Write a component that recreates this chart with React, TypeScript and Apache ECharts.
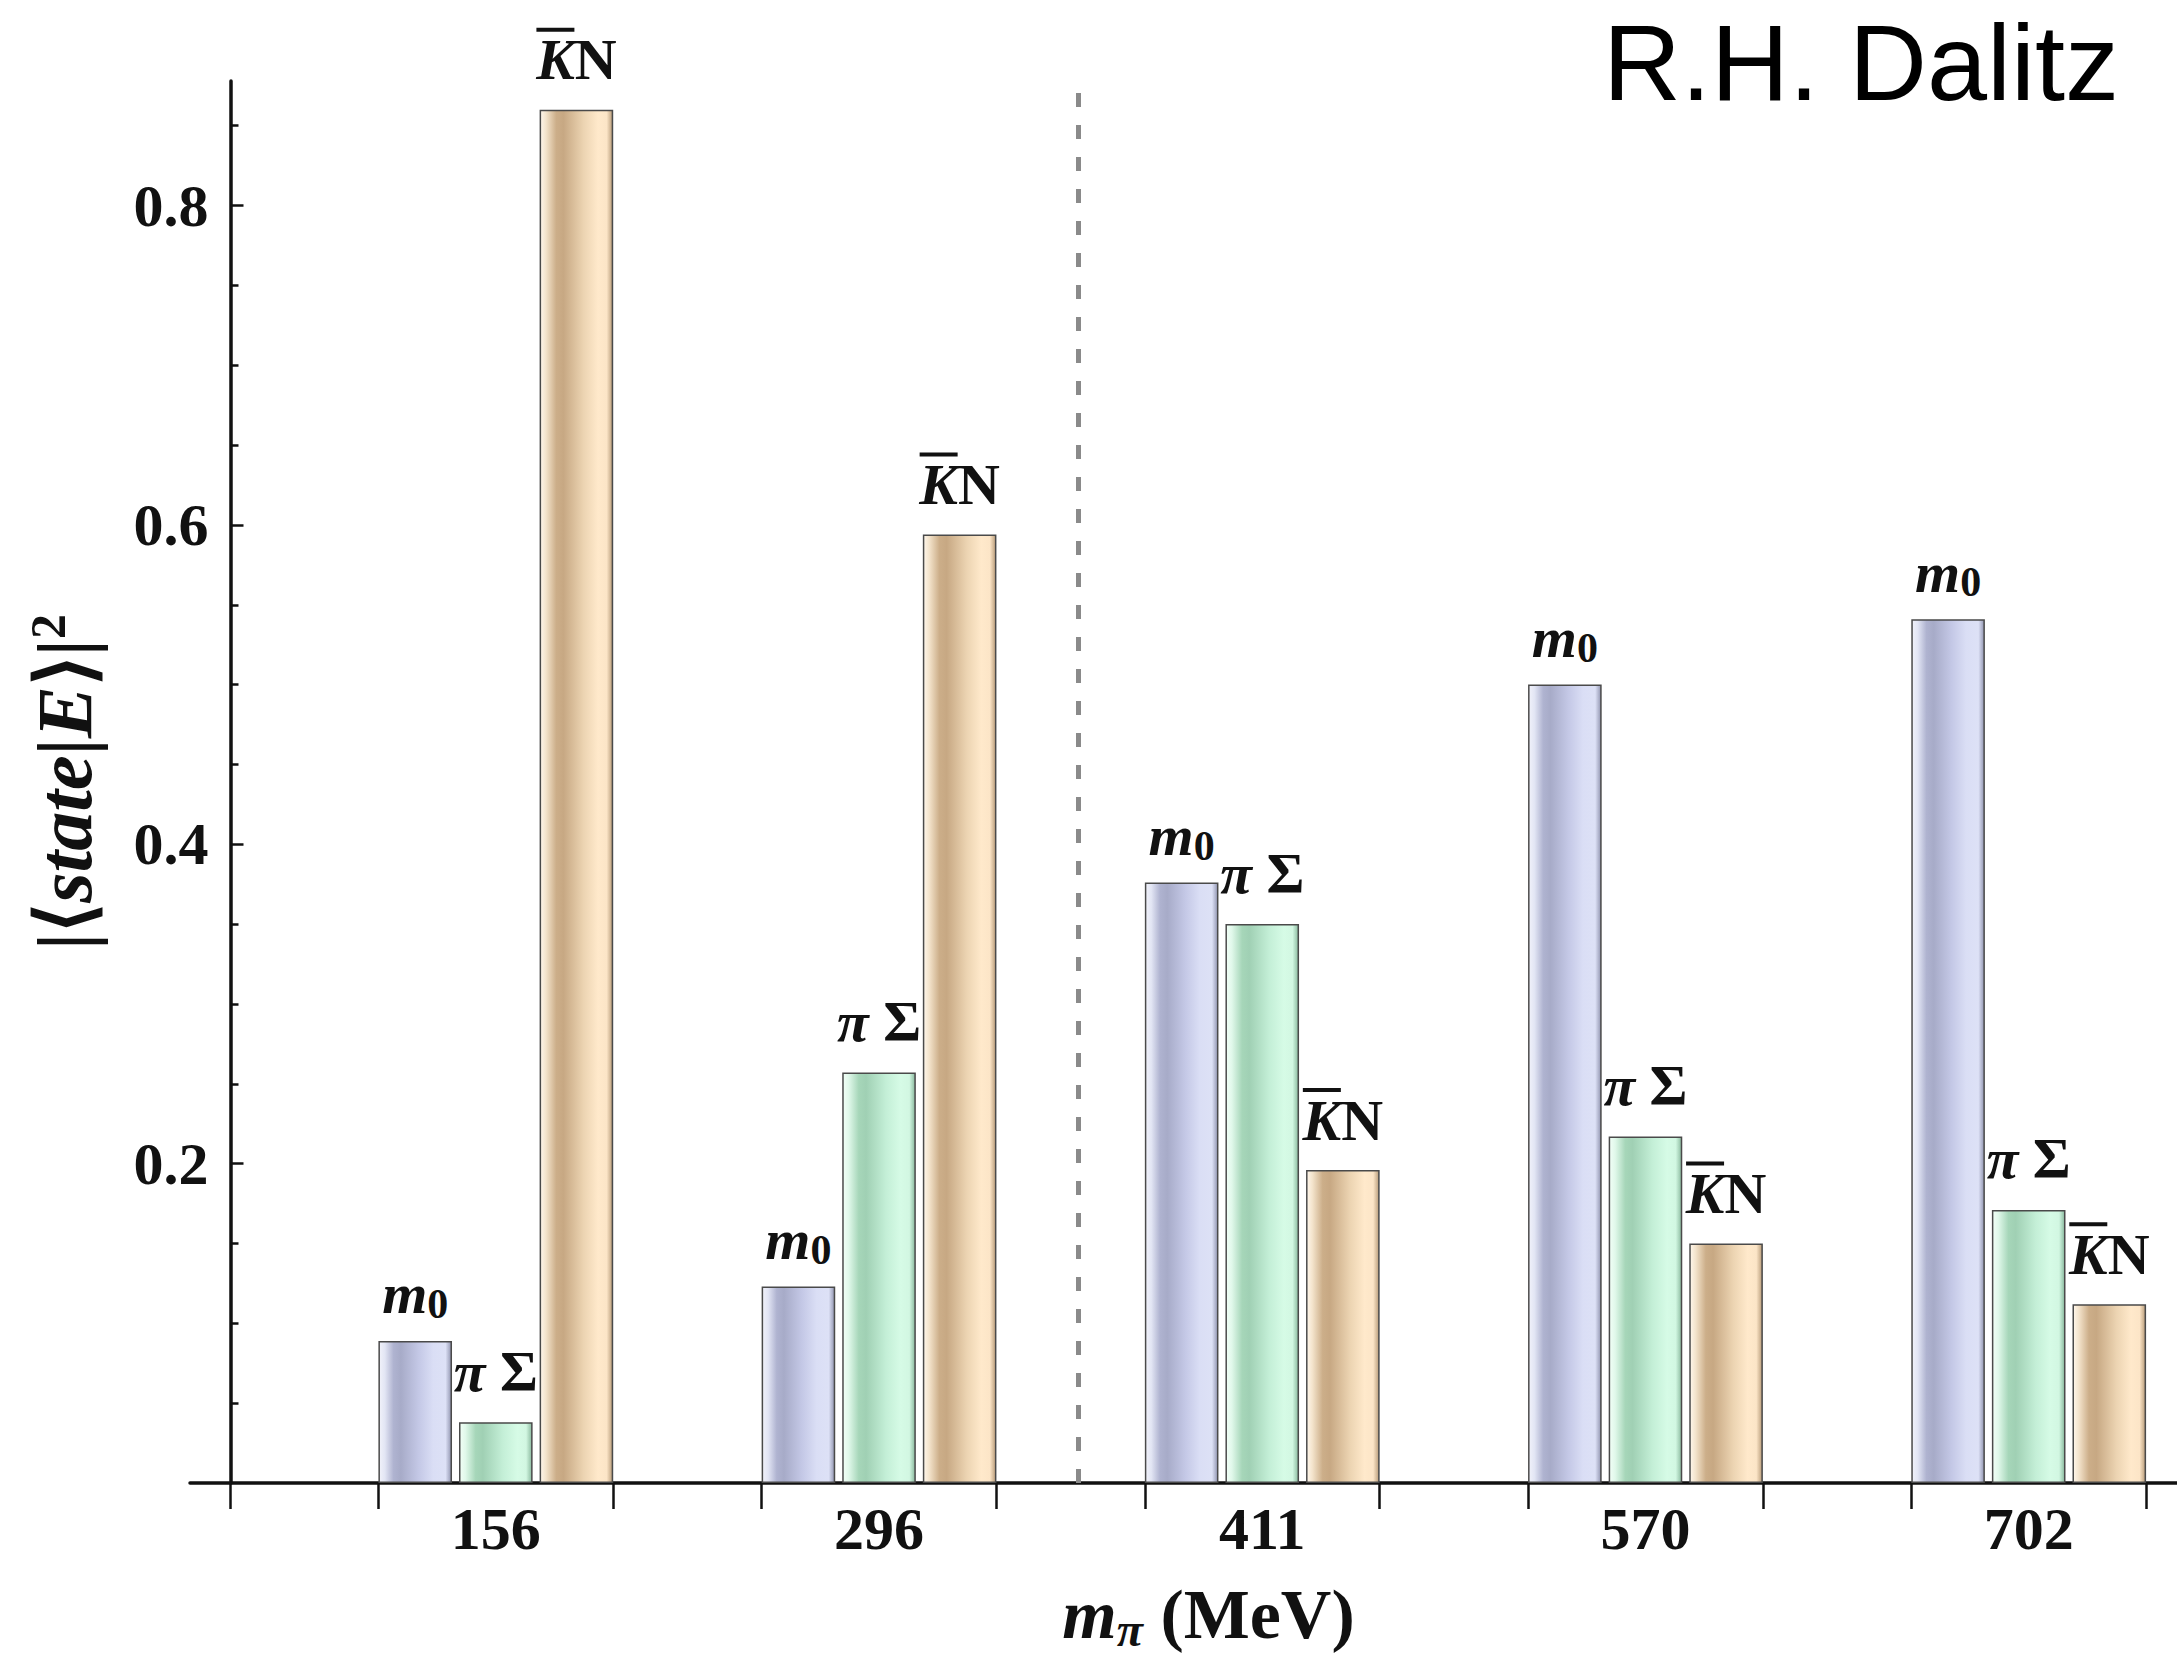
import React, { useEffect, useRef } from "react";
import * as echarts from "echarts";

// ---------- data ----------
const categories = ["156", "296", "411", "570", "702"];
const m0Values = [0.089, 0.123, 0.376, 0.5, 0.541];
const piSigmaValues = [0.038, 0.257, 0.35, 0.217, 0.171];
const kbarNValues = [0.86, 0.594, 0.196, 0.15, 0.112];
const yTickValues = [0.2, 0.4, 0.6, 0.8];
const yMinorTickValues = [0.05, 0.1, 0.15, 0.25, 0.3, 0.35, 0.45, 0.5, 0.55, 0.65, 0.7, 0.75, 0.85];
const dividerBetween = [1, 2]; // dashed separator between 296 and 411

// ---------- layout ----------
const W = 2177;
const H = 1662;
const GRID_LEFT = 190;
const GRID_TOP = 81;
const GRID_BOTTOM = 179;
const X_MIN = -0.798;
const X_MAX = 4.387;
const GROUP_PX = (W - GRID_LEFT) / (X_MAX - X_MIN);
const Y_AXIS_PX = 230.5;
const Y_AXIS_X = X_MIN + (Y_AXIS_PX - GRID_LEFT) / GROUP_PX;
const BAR_W = 73.6;
const BAR_GAP = 7;
const HALF_GROUP = (3 * BAR_W + 2 * BAR_GAP) / 2 / GROUP_PX;
const Y_MAX = 0.878;

const SERIF = '"Liberation Serif", "Times New Roman", serif';
const INK = "#111";

const xTickValues: number[] = [Y_AXIS_X];
categories.forEach((_, i) => {
  xTickValues.push(i - HALF_GROUP, i + HALF_GROUP);
});

const grad = (stops: [number, string][]) => ({
  type: "linear",
  x: 0,
  y: 0,
  x2: 1,
  y2: 0,
  colorStops: stops.map(([offset, color]) => ({ offset, color })),
});

const blueFill = grad([
  [0, "#f1f2fa"],
  [0.08, "#e2e5f4"],
  [0.2, "#afb3d0"],
  [0.3, "#a7abc8"],
  [0.55, "#c4c8e6"],
  [0.75, "#dadef5"],
  [0.92, "#dde1f6"],
  [1, "#9195b0"],
]);
const greenFill = grad([
  [0, "#f2fff7"],
  [0.08, "#e0f8ea"],
  [0.22, "#a6d6b9"],
  [0.32, "#a0d0b4"],
  [0.6, "#c4efd7"],
  [0.8, "#d6fbe6"],
  [0.92, "#d2f7e2"],
  [1, "#8ab99e"],
]);
const tanFill = grad([
  [0, "#fff7ec"],
  [0.08, "#f3e3cb"],
  [0.22, "#ccae89"],
  [0.32, "#c7a883"],
  [0.6, "#ecd4b2"],
  [0.8, "#ffe9cb"],
  [0.92, "#fce5c7"],
  [1, "#b89c7a"],
]);

const LBL = 58;
const labelRich = {
  mi: { fontFamily: SERIF, fontWeight: "bold", fontStyle: "italic", fontSize: LBL, lineHeight: 62, color: INK },
  sub: { fontFamily: SERIF, fontWeight: "bold", fontSize: 42, lineHeight: 26, verticalAlign: "bottom", color: INK },
  gi: { fontFamily: SERIF, fontWeight: "bold", fontStyle: "italic", fontSize: LBL, lineHeight: 62, color: INK },
  g: { fontFamily: SERIF, fontWeight: "bold", fontSize: LBL, lineHeight: 62, color: INK },
  ov: { width: 38, height: 4, lineHeight: 6, backgroundColor: INK, verticalAlign: "bottom" },
  ovs: { width: 42, height: 4, lineHeight: 6 },
  ki: { fontFamily: SERIF, fontWeight: "bold", fontStyle: "italic", fontSize: LBL, lineHeight: 56, color: INK },
  n: { fontFamily: SERIF, fontWeight: "bold", fontSize: LBL, lineHeight: 56, color: INK },
};

const makeBar = (name: string, values: number[], fill: any, label: string, distance: number, extra: any = {}) => ({
  name,
  type: "bar",
  xAxisIndex: 0,
  yAxisIndex: 0,
  barWidth: BAR_W,
  barGap: `${(BAR_GAP / BAR_W) * 100}%`,
  data: values.map((v, i) => [i, v]),
  itemStyle: { color: fill, borderColor: "#4a4a4a", borderWidth: 1.5 },
  label: {
    show: true,
    position: "top",
    distance,
    formatter: () => label,
    rich: labelRich,
  },
  ...extra,
});

export default function App() {
  const ref = useRef<HTMLDivElement>(null);

  useEffect(() => {
    document.body.style.margin = "0";
    const chart = echarts.init(ref.current!, null, { renderer: "svg" });
    const option: any = {
      animation: false,
      backgroundColor: "#ffffff",
      grid: { left: GRID_LEFT, right: 0, top: GRID_TOP, bottom: GRID_BOTTOM, containLabel: false },
      xAxis: {
        type: "value",
        min: X_MIN,
        max: X_MAX,
        splitLine: { show: false },
        axisLine: { show: true, onZero: true, lineStyle: { color: INK, width: 3.5 } },
        axisTick: { show: true, inside: false, length: 26, customValues: xTickValues, lineStyle: { color: INK, width: 2.5 } },
        axisLabel: {
          customValues: categories.map((_, i) => i),
          formatter: (v: number) => categories[Math.round(v)] ?? "",
          fontFamily: SERIF,
          fontWeight: "bold",
          fontSize: 60,
          color: INK,
          margin: 16,
        },
        name: "{mi|m}{sub|π}{t| (MeV)}",
        nameLocation: "middle",
        nameGap: 92,
        nameTextStyle: {
          padding: [0, 0, 0, 50],
          rich: {
            mi: { fontFamily: SERIF, fontWeight: "bold", fontStyle: "italic", fontSize: 70, lineHeight: 78, color: INK },
            sub: { fontFamily: SERIF, fontWeight: "bold", fontStyle: "italic", fontSize: 48, lineHeight: 40, verticalAlign: "bottom", color: INK },
            t: { fontFamily: SERIF, fontWeight: "bold", fontSize: 70, lineHeight: 78, color: INK },
          },
        },
      },
      yAxis: [
        {
          type: "value",
          position: "left",
          min: 0,
          max: Y_MAX,
          offset: -(Y_AXIS_PX - GRID_LEFT),
          splitLine: { show: false },
          axisLine: { show: true, onZero: false, lineStyle: { color: INK, width: 3.5 } },
          axisTick: { show: true, inside: true, length: 13, customValues: yTickValues, lineStyle: { color: INK, width: 2.5 } },
          axisLabel: {
            customValues: yTickValues,
            formatter: (v: number) => v.toFixed(1),
            fontFamily: SERIF,
            fontWeight: "bold",
            fontSize: 60,
            color: INK,
            margin: 22,
          },
          name: "{t||⟨}{i|state}{t||}{i|E}{t|⟩|}{sup|2}",
          nameLocation: "middle",
          nameRotate: 90,
          nameGap: 124,
          nameTextStyle: {
            rich: {
              t: { fontFamily: SERIF, fontWeight: "bold", fontSize: 78, lineHeight: 84, color: INK },
              i: { fontFamily: SERIF, fontWeight: "bold", fontStyle: "italic", fontSize: 78, lineHeight: 84, color: INK },
              sup: { fontFamily: SERIF, fontWeight: "bold", fontSize: 50, lineHeight: 44, verticalAlign: "top", color: INK },
            },
          },
        },
        {
          type: "value",
          position: "left",
          min: 0,
          max: Y_MAX,
          offset: -(Y_AXIS_PX - GRID_LEFT),
          splitLine: { show: false },
          axisLine: { show: false, onZero: false },
          axisTick: { show: true, inside: true, length: 8, customValues: yMinorTickValues, lineStyle: { color: INK, width: 2.5 } },
          axisLabel: { show: false },
        },
      ],
      series: [
        makeBar("m0", m0Values, blueFill, "{mi|m}{sub|0}", 16),
        makeBar("πΣ", piSigmaValues, greenFill, "{gi|π}{g| Σ}", 20, {
          markLine: {
            silent: true,
            symbol: "none",
            label: { show: false },
            lineStyle: { type: [14, 18], width: 5, color: "#8a8a8a" },
            data: [{ xAxis: (dividerBetween[0] + dividerBetween[1]) / 2 + 0.02 }],
          },
        }),
        makeBar("K̄N", kbarNValues, tanFill, "{ov| }{ovs| }\n{ki|K}{n|N}", 22),
      ],
      graphic: [
        {
          type: "text",
          x: 1603,
          y: 8,
          style: {
            text: "R.H. Dalitz",
            fontFamily: '"Liberation Sans", Arial, sans-serif',
            fontSize: 108,
            fill: "#000",
            verticalAlign: "top",
            align: "left",
          },
        },
      ],
    };
    chart.setOption(option);
    return () => chart.dispose();
  }, []);

  return <div ref={ref} style={{ width: W, height: H }} />;
}
